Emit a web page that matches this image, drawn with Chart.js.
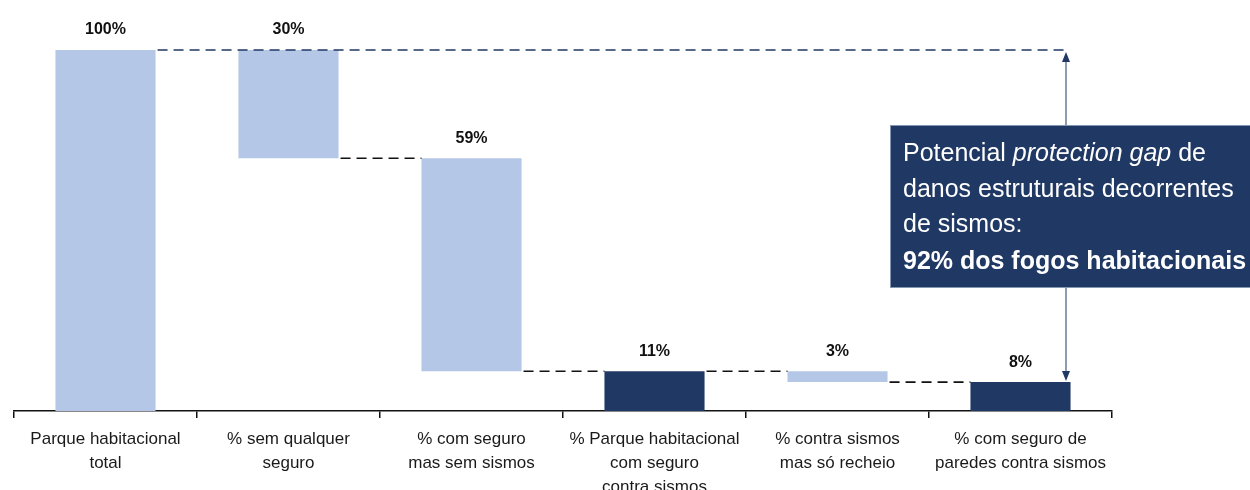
<!DOCTYPE html>
<html>
<head>
<meta charset="utf-8">
<script src="https://cdn.jsdelivr.net/npm/chart.js@4"></script>
<style>
  html, body { margin: 0; padding: 0; background: #fff; }
  #wrap { width: 1250px; height: 490px; position: relative; }
</style>
</head>
<body>
<div id="wrap"><canvas id="myChart"></canvas></div>
<script>
const categories = [
    ['Parque habitacional', 'total'],
    ['% sem qualquer', 'seguro'],
    ['% com seguro', 'mas sem sismos'],
    ['% Parque habitacional', 'com seguro', 'contra sismos'],
    ['% contra sismos', 'mas só recheio'],
    ['% com seguro de', 'paredes contra sismos'],
];
const barStart = [0, 70, 11, 0, 8, 0];
const barEnd = [100, 100, 70, 11, 11, 8];
const valueLabels = ['100%', '30%', '59%', '11%', '3%', '8%'];
// level of the dashed connector between bar i and bar i+1
const connectorLevels = [100, 70, 11, 11, 8];
const gapFrom = 100;
const gapTo = 8;

const light = '#b4c7e7';
const navy = '#203864';
const barColors = [light, light, light, navy, light, navy];
const FONT = '"Liberation Sans Narrow", "Liberation Sans", Arial, sans-serif';

// dashed connectors, value labels, gap arrow and the callout box
const waterfallExtras = {
    id: 'waterfallExtras',
    afterDatasetsDraw(chart) {
        const ctx = chart.ctx;
        const y = chart.scales.y;
        const bars = chart.getDatasetMeta(0).data;
        const area = chart.chartArea;
        const arrowX = area.right - 46;

        ctx.save();
        ctx.lineWidth = 1.6;
        ctx.setLineDash([10, 6]);
        connectorLevels.forEach((lvl, i) => {
            const py = y.getPixelForValue(lvl);
            const x0 = bars[i].x + bars[i].width / 2 + 2;
            // first one runs all the way to the arrow
            const x1 = i === 0 ? arrowX + 2 : bars[i + 1].x - bars[i + 1].width / 2;
            ctx.strokeStyle = i === 0 ? navy : '#111';
            ctx.beginPath();
            ctx.moveTo(x0, py);
            ctx.lineTo(x1, py);
            ctx.stroke();
        });
        ctx.setLineDash([]);

        // value labels
        ctx.fillStyle = '#111';
        ctx.font = 'bold 16px ' + FONT;
        ctx.textAlign = 'center';
        ctx.textBaseline = 'bottom';
        bars.forEach((b, i) => {
            ctx.fillText(valueLabels[i], b.x, y.getPixelForValue(barEnd[i]) - 12);
        });

        // double arrow
        const yTop = y.getPixelForValue(gapFrom) + 2;
        const yBot = y.getPixelForValue(gapTo) - 1;
        ctx.strokeStyle = navy;
        ctx.fillStyle = navy;
        ctx.lineWidth = 1;
        ctx.beginPath();
        ctx.moveTo(arrowX, yTop + 8);
        ctx.lineTo(arrowX, yBot - 8);
        ctx.stroke();
        ctx.beginPath();
        ctx.moveTo(arrowX, yTop); ctx.lineTo(arrowX - 4, yTop + 10); ctx.lineTo(arrowX + 4, yTop + 10);
        ctx.closePath(); ctx.fill();
        ctx.beginPath();
        ctx.moveTo(arrowX, yBot); ctx.lineTo(arrowX - 4, yBot - 10); ctx.lineTo(arrowX + 4, yBot - 10);
        ctx.closePath(); ctx.fill();

        // callout box
        const bx = 890, by = 125, bw = 380, bh = 163;
        ctx.fillStyle = navy;
        ctx.fillRect(bx, by, bw, bh);
        ctx.strokeStyle = '#8496b0';
        ctx.strokeRect(bx + 0.5, by + 0.5, bw, bh - 1);
        ctx.fillStyle = '#fff';
        ctx.textAlign = 'left';
        ctx.textBaseline = 'middle';
        let tx = 903;
        ctx.font = '25px ' + FONT;
        ctx.fillText('Potencial ', tx, 154);
        tx += ctx.measureText('Potencial ').width;
        ctx.font = 'italic 25px ' + FONT;
        ctx.fillText('protection gap', tx, 154);
        tx += ctx.measureText('protection gap').width;
        ctx.font = '25px ' + FONT;
        ctx.fillText(' de', tx, 154);
        ctx.fillText('danos estruturais decorrentes', 903, 190);
        ctx.fillText('de sismos:', 903, 225);
        ctx.font = 'bold 25px ' + FONT;
        ctx.fillText('92% dos fogos habitacionais', 903, 262);
        ctx.restore();
    }
};

const data = {
    labels: categories,
    datasets: [{
        data: barStart.map((s, i) => [s, barEnd[i]]),
        backgroundColor: barColors,
        borderWidth: 0,
        barPercentage: 1,
        categoryPercentage: 0.547
    }]
};

const config = {
    type: 'bar',
    data: data,
    options: {
        responsive: false,
        animation: false,
        layout: { padding: { left: 14, right: 138, top: 50, bottom: 0 } },
        plugins: { legend: { display: false }, tooltip: { enabled: false } },
        scales: {
            x: {
                offset: true,
                border: { color: '#111', width: 1.5 },
                grid: { offset: true, drawOnChartArea: false, color: '#111', tickLength: 7, lineWidth: 1.5 },
                ticks: {
                    color: '#1a1a1a',
                    font: { family: FONT, size: 17, lineHeight: 1.41 },
                    padding: 9,
                    maxRotation: 0,
                    autoSkip: false
                },
                afterFit(scale) { scale.height = 79; }
            },
            y: {
                display: false,
                min: 0,
                max: 100
            }
        }
    },
    plugins: [waterfallExtras]
};

const canvas = document.getElementById('myChart');
canvas.width = 1250;
canvas.height = 490;
const myChart = new Chart(canvas, config);
</script>
</body>
</html>
